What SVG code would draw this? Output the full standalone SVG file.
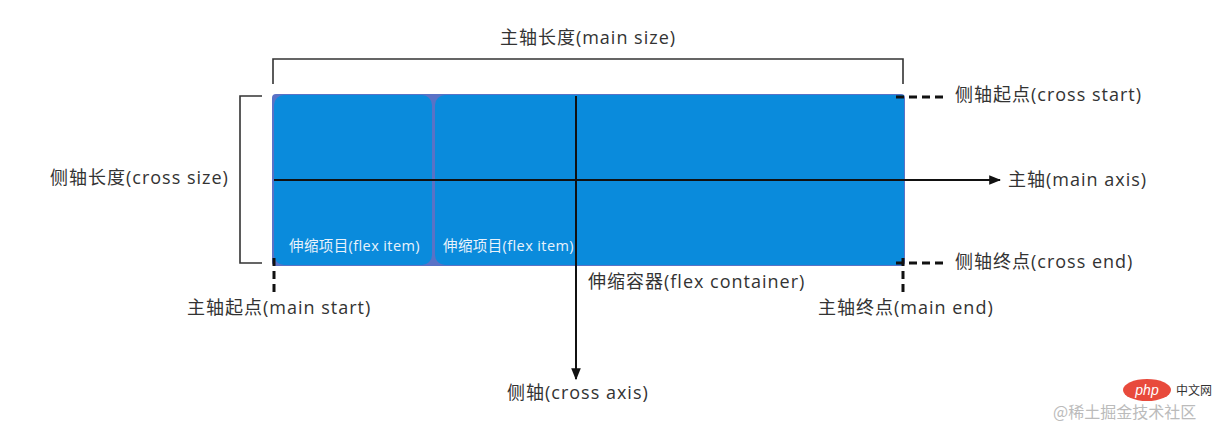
<svg xmlns="http://www.w3.org/2000/svg" width="1228" height="426" viewBox="0 0 1228 426">
<style>
.lbl{font-family:"Open Sans","Noto Sans CJK SC",sans-serif;font-size:18px;fill:#333;letter-spacing:1px;}
.item{font-family:"Open Sans","Noto Sans CJK SC",sans-serif;font-size:14.5px;fill:#e8f2fb;letter-spacing:0.4px;}
.ln{stroke:#111;stroke-width:2;fill:none;}
.br{stroke:#333;stroke-width:1.6;fill:none;}
.dash{stroke:#111;stroke-width:3;stroke-dasharray:8,5;fill:none;}
</style>
<defs>
<marker id="arr" viewBox="0 0 10 10" refX="9" refY="5" markerWidth="6" markerHeight="6" orient="auto" markerUnits="strokeWidth">
<path d="M0,1 L10,5 L0,9 z" fill="#111"/>
</marker>
</defs>
<rect width="1228" height="426" fill="#fff"/>
<g id="container">
<rect x="272" y="94" width="633" height="172" rx="4" fill="#5a72c6"/>
</g>
<g id="item1">
<rect x="274" y="95" width="158" height="170" rx="10" fill="#0a8bdc"/>
<text class="item" x="289" y="251">伸缩项目(flex item)</text>
</g>
<g id="item2">
<rect x="435" y="95" width="469" height="170" rx="10" fill="#0a8bdc"/>
<rect x="880" y="95" width="24" height="170" fill="#0a8bdc"/>
<text class="item" x="443" y="251">伸缩项目(flex item)</text>
</g>
<g id="connectors">
<path class="br" d="M273,84 V59 H903 V84"/>
<path class="br" d="M262,96 H240 V263 H262"/>
<line class="ln" x1="274" y1="180" x2="1000" y2="180" marker-end="url(#arr)"/>
<line class="ln" x1="576" y1="96" x2="576" y2="379" marker-end="url(#arr)"/>
<path class="dash" d="M896,97 H948"/>
<path class="dash" d="M896,263 H948"/>
<path class="dash" d="M903,258 V294"/>
<path class="dash" d="M274,258 V294"/>
</g>
<g id="labels">
<text class="lbl" x="588" y="44" text-anchor="middle">主轴长度(main size)</text>
<text class="lbl" x="50" y="184">侧轴长度(cross size)</text>
<text class="lbl" x="955" y="101">侧轴起点(cross start)</text>
<text class="lbl" x="1008" y="186">主轴(main axis)</text>
<text class="lbl" x="955" y="268">侧轴终点(cross end)</text>
<text class="lbl" x="187" y="314">主轴起点(main start)</text>
<text class="lbl" x="818" y="314">主轴终点(main end)</text>
<text class="lbl" x="588" y="288">伸缩容器(flex container)</text>
<text class="lbl" x="507" y="399">侧轴(cross axis)</text>
</g>
<g id="watermark">
<text x="1053" y="418" font-family="Noto Sans CJK SC,sans-serif" font-size="16" fill="#bbb">@稀土掘金技术社区</text>
<ellipse cx="1147" cy="390" rx="24" ry="11" fill="#e84a3c"/>
<text x="1147" y="395" text-anchor="middle" font-family="Liberation Sans,sans-serif" font-size="14" font-style="italic" fill="#fff">php</text>
<text x="1176" y="395" font-family="Noto Sans CJK SC,sans-serif" font-size="12" fill="#333">中文网</text>
</g>
</svg>
